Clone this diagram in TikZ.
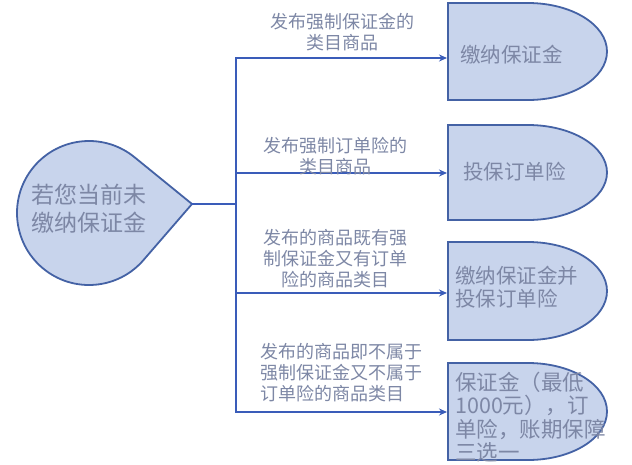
\documentclass[tikz,border=0pt]{standalone}
\usepackage{fontspec}
\setmainfont{Noto Sans CJK SC}
\usepackage{tikz}
\usetikzlibrary{arrows.meta,calc}
\definecolor{linkblue}{RGB}{58,92,185}
\definecolor{edgeblue}{RGB}{68,98,165}
\definecolor{fillblue}{RGB}{200,212,236}
\definecolor{textgray}{RGB}{125,135,165}

\begin{document}
\begin{tikzpicture}[x=1pt,y=-1pt,
    blob/.style={draw=edgeblue, fill=fillblue, line width=1.8pt},
    link/.style={draw=linkblue, line width=1.8pt, line cap=rect},
    branch/.style={link, -{Stealth[length=8pt,width=7pt]}},
    lbl/.style={text=textgray, font=\fontsize{18}{21}\selectfont, align=center},
    boxtxt/.style={text=textgray, font=\fontsize{20.5}{23}\selectfont, align=left, anchor=west, inner sep=0pt}]
  % Frame
  \useasboundingbox (0,0) rectangle (632,464);
  % Teardrop on the left
  \coordinate (tip) at (192,204);
  \coordinate (drop) at (89,213);
  \draw[blob] (tip) -- ($(drop)+(50:72pt)$) arc[start angle=50, end angle=320, radius=72pt] -- cycle;
  \node[text=textgray, font=\fontsize{23}{28}\selectfont, align=center] (cond) at (89,209) {若您当前未\\缴纳保证金};
  % Delay shapes on the right (top/bottom/arrow y)
  \foreach \t/\b/\a [count=\i] in {3/100/58, 125/220/173, 242/340/293, 363/460/412} {
    \pgfmathsetmacro\yr{(\b-\t)/2}
    \draw[blob] (448,\t) -- (528,\t) arc[start angle=90, end angle=-90, x radius=79pt, y radius=\yr pt] -- (448,\b) -- cycle;
    \coordinate (box\i) at (447,\a);
  }
  % Spine
  \coordinate (top) at (236,58);
  \coordinate (bot) at (236,412);
  \draw[link] (tip) -- (tip -| top);
  \draw[link] (top) -- (bot);
  % Branches
  \draw[branch] (top) -- (box1);
  \draw[branch] (top |- box2) -- (box2);
  \draw[branch] (top |- box3) -- (box3);
  \draw[branch] (bot) -- (box4);
  % Branch labels
  \node[lbl] (lbl1) at (342,32) {发布强制保证金的\\类目商品};
  \node[lbl] (lbl2) at (335,156) {发布强制订单险的\\类目商品};
  \node[lbl] (lbl3) at (335,259) {发布的商品既有强\\制保证金又有订单\\险的商品类目};
  \node[lbl, align=left] (lbl4) at (341,373) {发布的商品即不属于\\强制保证金又不属于\\订单险的商品类目};
  % Box texts
  \node[boxtxt] (txt1) at (460,55) {缴纳保证金};
  \node[boxtxt] (txt2) at (463,172) {投保订单险};
  \node[boxtxt] (txt3) at (455,287) {缴纳保证金并\\投保订单险};
  \node[boxtxt, font=\fontsize{21.5}{23.5}\selectfont] (txt4) at (455,417) {保证金（最低\\1000元），订\\单险，账期保障\\三选一};
\end{tikzpicture}
\end{document}
